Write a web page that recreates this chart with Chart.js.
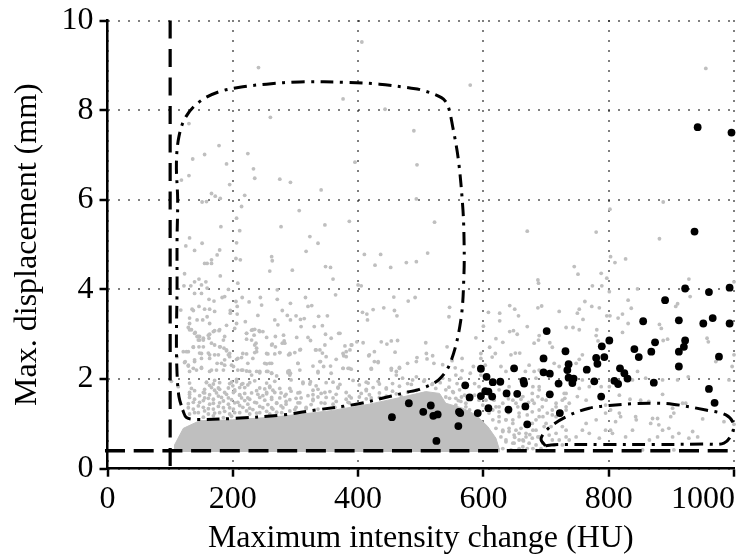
<!DOCTYPE html>
<html lang="en">
<head>
    <meta charset="UTF-8">
    <title>Maximum intensity change vs displacement</title>
    <script src="https://cdn.jsdelivr.net/npm/chart.js"></script>
    <style>
        html, body { margin: 0; padding: 0; background: white; }
        canvas { display: block; }
    </style>
</head>
<body>
    <canvas id="grafica" width="738" height="556"></canvas>
    <script>
        const xTicks = [0, 200, 400, 600, 800, 1000];
        const yTicks = [0, 2, 4, 6, 8, 10];

        // threshold lines
        const thresholdX = [[100, 10], [100, 0]];
        const thresholdY = [[-4, 0.4], [1000, 0.4]];

        // black points
        const blackPoints = [
            [942,7.62],[996,7.50],[937,5.29],[922,4.02],[960,3.94],[993,4.04],[890,3.76],[855,3.29],[912,3.31],[951,3.24],
            [966,3.36],[993,3.24],[874,2.82],[841,2.67],[848,2.49],[868,2.61],[922,2.86],[920,2.72],[912,2.61],[976,2.50],
            [912,2.28],[872,1.92],[960,1.78],[969,1.47],[801,2.86],[789,2.73],[780,2.47],[793,2.49],[782,2.34],[765,2.21],
            [818,2.24],[825,2.13],[830,2.01],[809,1.96],[815,1.89],[777,1.95],[788,1.61],[701,3.07],[731,2.62],[696,2.46],
            [736,2.33],[734,2.20],[696,2.15],[706,2.12],[736,2.03],[744,2.01],[742,1.91],[720,1.90],[706,1.66],[722,1.24],
            [649,2.24],[664,1.96],[665,1.90],[637,1.68],[654,1.67],[667,1.39],[640,1.32],[670,0.99],[596,2.23],[605,2.05],
            [615,1.93],[627,1.94],[603,1.73],[608,1.72],[596,1.62],[614,1.61],[608,1.35],[591,1.24],[571,1.86],[578,1.59],
            [561,1.27],[563,1.24],[560,0.95],[516,1.41],[504,1.27],[520,1.18],[527,1.21],[525,0.62],[454,1.15],[481,1.46]
        ];

        // dash-dot regions
        const regionLarge = [
            [120,1.31],[126,1.14],[142,1.10],[200,1.12],[280,1.20],[333,1.31],[397,1.44],[450,1.61],[482,1.72],[498,1.77],
            [529,1.99],[548,2.39],[564,3.32],[569,4.36],[569,5.18],[567,5.85],[560,6.90],[551,7.63],[543,8.11],[533,8.28],
            [501,8.45],[485,8.49],[434,8.58],[384,8.62],[307,8.63],[254,8.58],[216,8.52],[178,8.41],[147,8.19],[125,7.85],
            [114,7.41],[110,6.81],[112,6.00],[111,5.10],[111,3.99],[110,2.87],[111,2.13],[114,1.61],[120,1.31]
        ];
        const regionSmall = [
            [699,0.51],[692,0.66],[702,0.88],[732,1.16],[769,1.35],[801,1.41],[838,1.45],[870,1.46],[902,1.44],[955,1.31],
            [987,1.20],[999,1.01],[997,0.79],[984,0.57],[955,0.55],[870,0.54],[790,0.54],[726,0.54],[708,0.53],[699,0.51]
        ];

        // outline of the solid grey mass at the bottom
        const greyMass = [
            [107,0.37],[107,0.53],[121,0.90],[147,1.07],[200,1.09],[254,1.14],[312,1.22],[359,1.30],[418,1.44],[471,1.60],
            [508,1.72],[530,1.68],[540,1.46],[567,1.35],[588,1.20],[607,0.94],[620,0.68],[625,0.45],[625,0.37]
        ];

        // grey points, above y = 5
        const greyHigh = [
            [406,9.52],[241,8.95],[376,8.25],[443,8.02],[260,7.84],[130,7.70],[489,7.54],[178,7.21],[155,7.01],[224,7.03],
            [136,6.91],[190,6.80],[395,6.84],[494,6.78],[233,6.69],[130,6.54],[118,6.44],[235,6.48],[275,6.46],[292,6.39],
            [195,6.34],[341,6.22],[166,6.14],[172,6.08],[180,6.03],[219,6.10],[151,5.95],[158,5.96],[493,6.02],[214,5.85],
            [306,5.76],[206,5.59],[347,5.44],[386,5.52],[181,5.40],[211,5.31],[277,5.40],[323,5.18],[131,5.15],[579,8.56],
            [955,8.93],[802,5.79],[887,5.95],[522,5.50],[670,5.30],[780,5.28],[881,5.13],[125,4.97],[151,5.03],[206,5.04],
            [336,5.03]
        ];

        // grey points, left part between y = 2 and y = 5
        const greyMiddle = [
            [139,4.87],[179,4.88],[175,4.77],[166,4.66],[166,4.58],[155,4.58],[159,4.58],[205,4.69],[212,4.66],[262,4.73],
            [263,4.64],[259,4.41],[295,4.43],[317,4.85],[348,4.51],[356,4.49],[360,4.23],[410,4.78],[436,4.78],[427,4.54],
            [452,4.49],[477,4.60],[493,4.62],[123,4.35],[180,4.30],[122,4.08],[133,4.08],[139,4.17],[146,4.23],[157,4.17],
            [150,4.10],[159,4.03],[139,3.91],[150,3.91],[162,3.78],[170,3.74],[193,4.00],[208,4.14],[271,3.99],[183,3.82],
            [187,3.84],[205,3.73],[215,3.82],[226,3.72],[244,3.82],[271,3.78],[246,3.65],[292,3.69],[316,3.82],[326,3.64],
            [320,3.62],[400,4.10],[405,4.08],[364,3.88],[457,3.83],[480,3.74],[491,3.82],[441,3.59],[424,3.55],[407,3.49],
            [414,3.45],[415,3.32],[458,3.53],[462,3.41],[117,3.54],[135,3.56],[146,3.62],[155,3.56],[163,3.56],[171,3.51],
            [137,3.53],[131,3.36],[143,3.32],[152,3.32],[159,3.39],[163,3.24],[131,3.24],[129,3.15],[134,3.10],[140,3.04],
            [143,2.95],[147,2.95],[145,2.87],[153,2.87],[163,3.00],[171,3.08],[178,3.08],[190,3.20],[196,3.53],[196,3.47],
            [207,3.62],[207,3.45],[220,3.28],[240,3.42],[206,3.24],[267,3.32],[279,3.53],[287,3.42],[292,3.32],[301,3.41],
            [308,3.33],[314,3.35],[309,3.17],[330,3.17],[337,3.40],[343,3.19],[351,3.41],[272,3.21],[222,3.02],[230,3.09],
            [235,3.11],[242,3.08],[248,3.06],[222,2.89],[234,2.98],[254,2.93],[268,2.95],[281,2.98],[302,2.93],[320,2.93],
            [324,2.86],[348,3.00],[357,2.91],[369,3.02],[282,2.85],[279,2.80],[237,2.80],[238,2.69],[235,2.59],[263,2.78],
            [268,2.72],[308,2.66],[299,2.59],[291,2.55],[275,2.59],[256,2.56],[267,2.56],[332,2.65],[339,2.65],[343,2.58],
            [340,2.39],[379,2.74],[390,2.76],[398,2.83],[387,2.65],[381,2.61],[377,2.52],[437,2.83],[446,2.78],[453,2.85],
            [463,2.86],[459,2.60],[494,2.48],[426,2.61],[417,2.52],[426,2.39],[432,2.37],[421,2.22],[365,2.44],[356,2.29],
            [345,2.28],[304,2.35],[307,2.20],[290,2.19],[292,2.13],[289,2.54],[222,2.56],[214,2.48],[206,2.44],[193,2.54],
            [190,2.63],[186,2.69],[195,2.50],[187,2.95],[185,2.87],[180,2.72],[171,2.76],[162,2.91],[153,2.72],[146,2.72],
            [137,2.71],[129,2.61],[121,2.61],[111,2.50],[123,2.37],[129,2.29],[147,2.58],[161,2.58],[163,2.46],[177,2.54],
            [150,2.46],[139,2.43],[137,2.24],[150,2.26],[175,2.35],[187,2.31],[174,2.20],[163,2.17],[198,2.31],[232,2.46],
            [214,2.20],[222,2.18],[230,2.09],[238,2.17],[254,2.34],[262,2.35],[243,2.14],[254,2.17],[262,2.13],[270,2.07],
            [288,2.14],[328,2.29],[336,2.14],[376,2.24],[384,2.24],[389,2.22],[453,2.24],[466,2.26],[479,2.35],[493,2.39],
            [461,2.17],
            [131,3.10],[139,3.02],[145,2.95],[147,2.87],[153,2.91],[161,2.98],[169,3.06],[179,3.10],[166,2.80],[179,2.72],
            [190,2.65],[195,2.57],[203,3.13],[222,3.02],[232,3.10],[243,3.06],[230,2.87],[235,2.76],[238,2.61],[216,2.57],
            [208,2.46],[224,2.35],[251,2.35],[259,2.35],[254,2.57],[262,2.76],[275,2.59],[283,2.80],[291,2.57],[304,2.35],
            [307,2.65],[333,2.65],[339,2.39],[349,2.50],[347,2.76],[371,3.02],[376,2.57],[389,2.76],[381,2.50],[408,2.81],
            [418,2.54],[432,2.39],[126,2.61],[137,2.72],[150,2.57],[163,2.54],[171,2.54],[139,2.39],[124,2.39],[129,2.31],
            [150,2.24],[142,2.20],[131,2.17],[166,2.20],[182,2.35],[187,2.43],[185,2.20],[201,2.28],[208,2.20],[216,2.20],
            [227,2.17],[243,2.17],[256,2.17],[262,2.13],[288,2.17],[291,2.09],[336,2.17],[357,2.13],[376,2.24],[386,2.24],
            [421,2.24],[453,2.20],[466,2.24],[461,2.09]
        ];

        // grey points, band just above the solid mass
        const greyBand = [
            [102,1.95],[158,1.92],[171,1.97],[198,1.93],[206,1.99],[216,1.90],[235,1.96],[254,1.91],[267,1.95],[293,1.98],
            [312,1.90],[324,1.94],[360,1.93],[392,1.97],[416,1.91],[432,1.95],[455,1.90],[113,1.83],[163,1.86],[177,1.80],
            [200,1.85],[211,1.81],[224,1.87],[243,1.80],[259,1.84],[275,1.79],[333,1.85],[368,1.82],[402,1.87],[445,1.80],
            [466,1.84],[485,1.88],[131,1.70],[139,1.74],[155,1.69],[171,1.75],[187,1.70],[203,1.73],[219,1.68],[238,1.74],
            [254,1.70],[264,1.75],[277,1.69],[293,1.73],[307,1.70],[328,1.75],[341,1.68],[355,1.72],[381,1.70],[413,1.74],
            [434,1.69],[455,1.73],[479,1.71],[493,1.75],[131,1.59],[147,1.63],[161,1.57],[177,1.62],[193,1.58],[211,1.64],
            [224,1.58],[248,1.63],[262,1.59],[283,1.62],[301,1.57],[320,1.63],[336,1.60],[360,1.58],[386,1.62],[402,1.60],
            [421,1.58],[445,1.62],[469,1.60],[137,1.48],[153,1.52],[169,1.46],[185,1.51],[203,1.47],[219,1.52],[235,1.48],
            [251,1.53],[270,1.46],[285,1.50],[307,1.47],[328,1.52],[347,1.46],[365,1.50],[384,1.48],[129,1.36],[145,1.40],
            [161,1.34],[177,1.39],[195,1.36],[211,1.41],[227,1.35],[243,1.39],[262,1.36],[277,1.40],[301,1.37],[317,1.34],
            [139,1.25],[155,1.29],[171,1.24],[187,1.28],[203,1.25],[222,1.29],[238,1.24],[254,1.28],[270,1.26],[291,1.29],
            [153,1.15],[169,1.18],[185,1.14],[198,1.17],
            [131,1.91],[158,1.93],[169,1.89],[179,1.92],[195,1.90],[206,1.94],[214,1.88],[227,1.92],[312,1.93],[323,1.89],
            [349,1.92],[371,1.88],[413,1.93],[434,1.89],[134,1.79],[155,1.77],[166,1.81],[179,1.77],[193,1.80],[203,1.76],
            [219,1.81],[251,1.78],[259,1.81],[291,1.79],[336,1.77],[368,1.80],[413,1.77],[424,1.81],[445,1.78],[131,1.66],
            [153,1.70],[163,1.65],[174,1.69],[190,1.66],[201,1.70],[211,1.65],[230,1.69],[240,1.66],[254,1.67],[267,1.70],
            [285,1.66],[304,1.69],[328,1.65],[347,1.70],[365,1.66],[405,1.68],[418,1.65],[461,1.67],[139,1.55],[155,1.58],
            [169,1.55],[182,1.59],[198,1.54],[214,1.58],[227,1.55],[243,1.59],[262,1.55],[275,1.58],[291,1.54],[309,1.58],
            [328,1.55],[349,1.59],[381,1.55],[389,1.58],[413,1.56],[434,1.59],[129,1.45],[147,1.48],[163,1.44],[179,1.47],
            [193,1.44],[208,1.48],[224,1.44],[238,1.47],[256,1.43],[270,1.47],[285,1.44],[304,1.47],[325,1.43],[341,1.47],
            [360,1.44],[386,1.47],[137,1.33],[153,1.37],[169,1.33],[185,1.36],[201,1.33],[216,1.37],[232,1.32],[248,1.36],
            [264,1.33],[280,1.36],[299,1.32],[317,1.37],[336,1.33],[363,1.37],[376,1.36],[131,1.22],[145,1.25],[161,1.22],
            [179,1.25],[195,1.22],[211,1.25],[227,1.22],[243,1.25],[259,1.22],[278,1.25],
            [505,1.95],[518,1.88],[531,1.92],[545,1.82],[558,1.90],[540,1.60],[552,1.70],[565,1.60],[560,1.52],[572,1.38],
            [471,2.02],[479,1.90],[487,1.98],[493,2.05],[506,1.98],[519,1.90],[535,2.02],[546,1.98],[556,2.09],[564,2.02],
            [524,1.79],[540,1.76],[551,1.72],[562,1.76],[570,1.64],[586,1.90],[593,1.83],[546,1.57],[556,1.57],[564,1.50],
            [586,1.64],[556,1.42],[572,1.46],[578,1.31],[593,1.53],[599,1.42]
        ];

        // grey points, right part
        const greyRight = [
            [511,4.81],[803,4.73],[810,4.60],[827,4.68],[745,4.51],[751,4.34],[788,4.36],[797,4.25],[687,4.21],[688,4.14],
            [774,4.08],[789,4.08],[801,3.95],[846,4.01],[928,4.23],[1000,4.17],[930,3.84],[910,3.68],[907,3.62],[831,3.76],
            [762,3.73],[753,3.56],[750,3.47],[759,3.33],[773,3.62],[785,3.59],[797,3.41],[802,3.41],[815,3.36],[822,3.45],
            [836,3.58],[831,3.24],[642,3.64],[650,3.56],[656,3.41],[687,3.59],[693,3.63],[721,3.51],[546,3.60],[545,3.39],
            [608,3.49],[626,3.47],[626,3.30],[600,3.18],[670,3.17],[642,3.06],[648,3.08],[654,3.00],[588,2.92],[620,2.90],
            [631,2.82],[689,2.97],[688,2.87],[681,2.80],[706,2.81],[710,2.71],[732,3.15],[743,3.15],[753,3.10],[781,3.10],
            [780,2.97],[783,2.85],[822,3.04],[881,3.22],[884,3.13],[887,2.86],[894,2.89],[957,2.91],[959,2.83],[971,2.39],
            [1000,2.54],[997,2.28],[758,2.54],[753,2.44],[748,2.35],[508,2.81],[542,2.72],[519,2.52],[510,2.45],[509,2.57],
            [521,2.35],[535,2.32],[550,2.41],[555,2.25],[566,2.46],[566,2.19],[610,2.71],[619,2.57],[614,2.49],[644,2.54],
            [651,2.58],[658,2.58],[596,2.57],[596,2.46],[603,2.31],[584,2.28],[579,2.13],[596,2.09],[628,2.28],[636,2.17],
            [673,2.31],[667,2.17],[681,2.17],[689,2.20],[713,2.35],[721,2.28],[684,2.02],[679,1.83],[689,1.83],[700,1.53],
            [694,1.55],[729,1.68],[730,1.57],[716,1.46],[737,1.46],[753,1.79],[769,1.83],[758,1.98],[750,1.61],[764,1.53],
            [788,1.83],[801,1.83],[817,1.64],[834,1.55],[851,1.53],[864,1.50],[886,1.66],[838,1.98],[846,2.17],[859,2.02],
            [886,1.98],[910,1.98],[927,2.05],[992,1.98],[918,1.46],[902,1.35],[904,1.24],[923,1.46],[950,1.11],[984,1.05],
            [1000,0.99]
        ];

        // grey points, bottom right
        const greyLow = [
            [870,1.12],[878,1.12],[867,1.01],[880,0.98],[886,0.86],[878,0.71],[865,0.64],[843,1.16],[844,1.09],[817,1.24],
            [819,1.16],[811,1.05],[803,0.86],[795,0.86],[806,0.79],[838,0.86],[827,0.71],[854,0.42],[904,0.42],[912,0.79],
            [934,0.83],[942,0.71],[928,0.68],[899,1.16],[896,0.90],[902,0.71],[780,1.09],[764,1.01],[758,0.86],[748,0.71],
            [737,0.64],[769,0.79],[785,0.68],[732,0.86],[721,0.64],[795,1.42],[803,1.31],[795,1.24],
            [604,1.53],[625,1.38],[631,1.46],[615,1.31],[625,1.16],[636,1.09],[652,1.46],[657,1.24],[647,1.09],
            [631,0.86],[641,0.83],[652,0.86],[657,0.79],[668,0.71],[679,0.86],[684,1.09],[689,1.31],
            [695,1.16],[681,1.46],[687,1.61],[697,0.94],[687,0.71],[695,0.57],[673,0.57],[663,0.49],[647,0.57],[636,0.64],
            [631,0.45],[657,0.64],[679,0.45],[692,0.45],[710,0.64],[708,0.94],
            [716,1.16],[710,1.31],[732,1.38],
            [609,1.24],[620,1.38],[617,1.53],[625,1.27],[625,1.76],[641,1.83],[647,1.53],[655,1.38],[663,1.61],[678,1.68],
            [689,1.76],[678,1.53],[694,1.38],[702,1.24],[716,1.38],[726,1.53],[732,1.68],[678,1.27],[689,1.16],[700,1.01],
            [710,1.20],[732,1.31],[615,1.09],[625,1.05],[636,1.09],[647,1.01],[657,1.16],[620,0.90],[631,0.83],[641,0.90],
            [649,0.75],[660,0.90],[668,0.79],[678,1.01],[684,0.86],[689,0.71],[678,0.68],[663,0.64],[649,0.57],[636,0.60],
            [644,0.42],[657,0.45],[670,0.45],[684,0.53],[705,0.75],[716,0.79],[726,0.94],[732,0.71],[713,0.53],[726,0.53],
            [628,0.71],[640,1.25],[650,0.70],[664,0.62],[670,1.20],[674,0.76],[640,1.56],[660,1.55],[672,1.48]
        ];

        function pts(list) {
            return list.map(p => ({ x: p[0], y: p[1] }));
        }

        const serif = "'Liberation Serif', 'Times New Roman', serif";
        const grey = "#bfbfbf";
        const allGrey = [].concat(greyHigh, greyMiddle, greyBand, greyRight, greyLow);

        // the 1000 label sits flush with the end of the axis
        const lastLabelRight = {
            id: "lastLabelRight",
            beforeDraw(chart) {
                let items = chart.scales.x.getLabelItems();
                let last = items[items.length - 1];
                last.options.textAlign = "right";
                last.options.translation = [chart.chartArea.right + 1, last.options.translation[1]];
            }
        };

        new Chart(document.getElementById("grafica").getContext("2d"), {
            type: "scatter",
            data: {
                datasets: [
                    { data: pts(blackPoints), order: 1, backgroundColor: "#000", borderWidth: 0, pointRadius: 3.9, clip: false },
                    { data: pts(regionLarge), order: 2, showLine: true, tension: 0.35, borderColor: "#000", borderWidth: 3,
                      borderDash: [13, 6.5, 3, 6.5], pointRadius: 0, clip: false },
                    { data: pts(regionSmall), order: 2, showLine: true, tension: 0.35, borderColor: "#000", borderWidth: 3,
                      borderDash: [13, 6.5, 3, 6.5], pointRadius: 0, clip: false },
                    { data: pts(thresholdX), order: 2, showLine: true, borderColor: "#000", borderWidth: 3.2,
                      borderDash: [18, 10.5], pointRadius: 0, clip: false },
                    { data: pts(thresholdY), order: 2, showLine: true, borderColor: "#000", borderWidth: 3.6,
                      borderDash: [20, 8.7], pointRadius: 0, clip: false },
                    { data: pts(allGrey), order: 3, backgroundColor: grey, borderWidth: 0, pointRadius: 1.9, clip: false },
                    { data: pts(greyMass), order: 4, showLine: true, fill: "shape", backgroundColor: grey, borderColor: grey,
                      borderWidth: 1, pointRadius: 0, clip: false }
                ]
            },
            options: {
                responsive: false,
                animation: false,
                layout: { padding: { top: 20.5, right: 3, left: 0, bottom: 0 } },
                plugins: { legend: { display: false }, tooltip: { enabled: false } },
                scales: {
                    x: {
                        type: "linear", min: 0, max: 1000,
                        afterBuildTicks: axis => { axis.ticks = xTicks.map(v => ({ value: v })); },
                        afterFit: axis => { axis.height = 87.3; axis.paddingLeft = 0; axis.paddingRight = 0; },
                        title: { display: true, text: "Maximum intensity change (HU)", color: "#000",
                                 font: { family: serif, size: 32 }, padding: { top: 0, bottom: -2 } },
                        ticks: { color: "#000", font: { family: serif, size: 32 }, padding: 4, maxRotation: 0, autoSkip: false,
                                 callback: v => String(v) },
                        border: { display: true, color: "#000", width: 2.5, dash: [1, 9] },
                        grid: { color: "#000", lineWidth: 2, tickLength: 8, tickColor: "#000", tickWidth: 2.5 }
                    },
                    y: {
                        type: "linear", min: 0, max: 10,
                        afterBuildTicks: axis => { axis.ticks = yTicks.map(v => ({ value: v })); },
                        afterFit: axis => { axis.width = 107.5; axis.paddingTop = 0; axis.paddingBottom = 0; },
                        title: { display: true, text: "Max. displacement (mm)", color: "#000",
                                 font: { family: serif, size: 32 }, padding: { top: 8, bottom: 0 } },
                        ticks: { color: "#000", font: { family: serif, size: 32 }, padding: 6, autoSkip: false },
                        border: { display: true, color: "#000", width: 2.5, dash: [1, 9] },
                        grid: { color: "#000", lineWidth: 2, tickLength: 8, tickColor: "#000", tickWidth: 2.5 }
                    }
                }
            },
            plugins: [lastLabelRight]
        });
    </script>
</body>
</html>
